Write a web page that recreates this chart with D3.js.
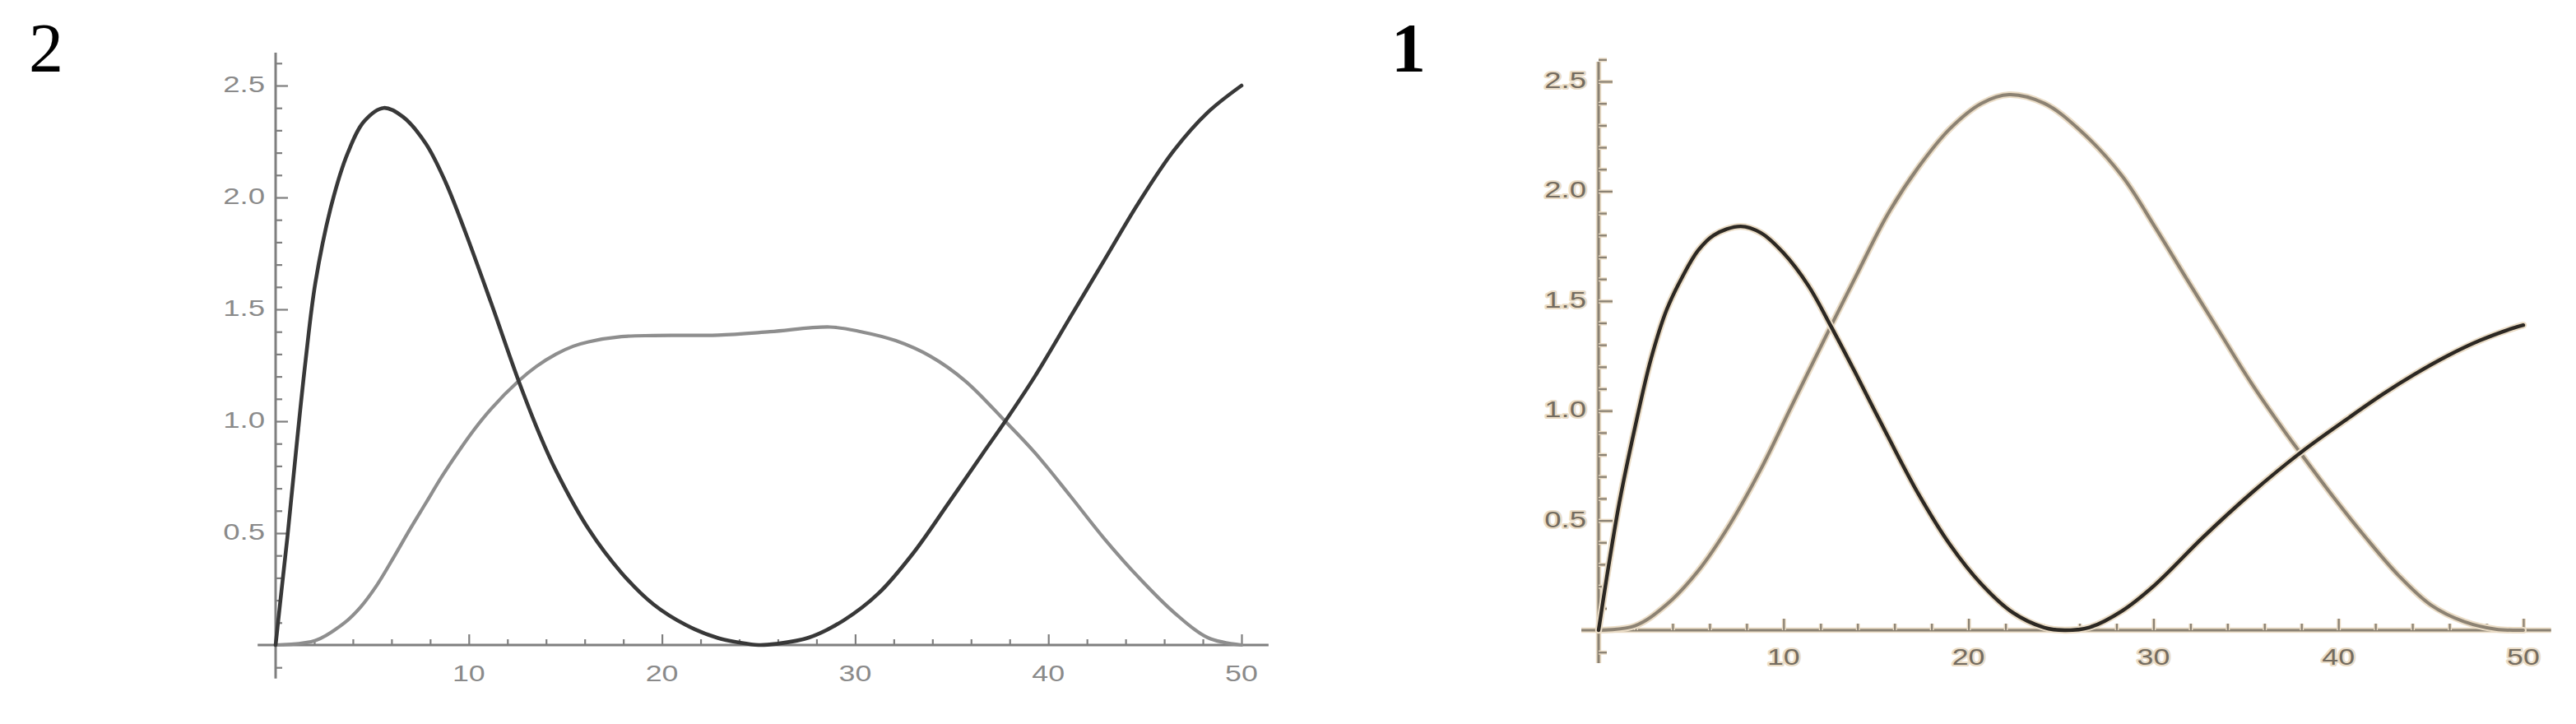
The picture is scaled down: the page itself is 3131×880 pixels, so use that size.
<!DOCTYPE html>
<html><head><meta charset="utf-8">
<script src="https://cdn.jsdelivr.net/npm/d3@7"></script>
<style>body{margin:0;background:#fff;} svg{display:block;background:#fff}</style>
</head><body>
<svg id="c" width="3131" height="880"></svg>
<script>
// ---- shared tick labels ----
const xTickLabels = [10, 20, 30, 40, 50];
const yTickLabels = [0.5, 1.0, 1.5, 2.0, 2.5];
const xMinorTicks = [2,4,6,8,12,14,16,18,22,24,26,28,32,34,36,38,42,44,46,48];
const yMinorTicks = [-0.1,0.1,0.2,0.3,0.4,0.6,0.7,0.8,0.9,1.1,1.2,1.3,1.4,1.6,1.7,1.8,1.9,2.1,2.2,2.3,2.4,2.6];

// ---- panel "2" (left) ----
const panel2Title = "2";
const p2DarkX = [0,0.3,0.62,1.13,1.55,2.06,2.9,3.74,4.58,5.6,6.6,7.78,8.79,9.8,11.15,12.58,13.68,14.52,16.2,17.9,19.57,21.25,22.9,24.0,25.0,25.9,27.6,29.4,31.2,33.0,34.8,36.6,37.77,39.3,41.1,42.9,44.7,46.5,48.25,50];
const p2DarkY = [0,0.24,0.49,0.93,1.27,1.62,1.97,2.20,2.34,2.40,2.36,2.24,2.07,1.85,1.53,1.18,0.938,0.778,0.518,0.323,0.181,0.089,0.031,0.011,0,0.005,0.033,0.11,0.23,0.41,0.63,0.855,1.0,1.20,1.46,1.72,1.98,2.21,2.38,2.50];
const p2LightX = [0,2.06,3.57,4.4,5.26,6.1,6.94,7.78,8.62,9.47,10.3,11.15,12.58,13.5,14.52,15.4,16.2,17.9,19.57,22.9,25.6,28.7,30.3,32.1,33.9,35.7,37.77,39.3,41.1,42.9,44.7,46.5,48.25,50];
const p2LightY = [0,0.02,0.10,0.17,0.27,0.39,0.515,0.635,0.755,0.865,0.965,1.055,1.18,1.245,1.30,1.335,1.355,1.378,1.383,1.385,1.40,1.421,1.40,1.36,1.29,1.18,1.0,0.86,0.67,0.475,0.30,0.146,0.033,0];

// ---- panel "1" (right) ----
const panel1Title = "1";
const p1DarkX = [0,0.44,1.12,1.97,2.83,3.68,4.53,5.38,6.23,7.68,8.78,9.98,11.34,12.53,13.9,15.6,17.3,19.0,20.7,22.4,24.1,25.2,26.54,28.3,30.06,32.7,35.3,37.97,40.6,42.4,44.1,45.9,47.65,49.4,50];
const p1DarkY = [0,0.24,0.58,0.925,1.235,1.46,1.61,1.73,1.80,1.84,1.81,1.72,1.57,1.39,1.17,0.89,0.62,0.39,0.21,0.08,0.012,0,0.013,0.088,0.205,0.425,0.625,0.81,0.97,1.075,1.165,1.25,1.32,1.375,1.39];
const p1LightX = [0,1.97,3.68,5.38,7.08,8.78,10.49,12.53,13.9,15.6,17.3,19.0,20.7,22.2,24.1,26.0,28.3,30.06,31.8,33.6,35.3,37.1,37.97,39.7,41.5,43.25,45.0,46.8,48.5,50];
const p1LightY = [0,0.02,0.117,0.27,0.48,0.735,1.03,1.38,1.61,1.89,2.11,2.285,2.40,2.44,2.40,2.28,2.07,1.84,1.60,1.355,1.125,0.905,0.805,0.61,0.42,0.25,0.115,0.039,0.005,0];

const svg = d3.select("#c");

function drawPanel(cfg) {
  const g = svg.append("g");
  const x = d3.scaleLinear().domain([0, 50]).range([cfg.x0, cfg.x50]);
  const y = d3.scaleLinear().domain([0, 2.5]).range([cfg.y0, cfg.y25]);
  const halo = cfg.halo;

  // axis lines
  const axisLines = [
    [[x(0), y(-0.15)], [x(0), y(cfg.yTop)]],
    [[x(-0.93), y(0)], [x(cfg.xRight), y(0)]]
  ];
  if (halo) {
    g.selectAll(".axh").data(axisLines).join("path")
      .attr("d", d => d3.line()(d)).attr("stroke", halo).attr("stroke-width", 6.5).attr("fill", "none");
  }
  g.selectAll(".ax").data(axisLines).join("path")
    .attr("d", d => d3.line()(d)).attr("stroke", cfg.axisColor).attr("stroke-width", 3).attr("fill", "none");

  function styleAxis(sel) {
    sel.select(".domain").remove();
    sel.selectAll(".tick text").remove();
    sel.selectAll(".tick line").attr("stroke", cfg.axisColor).attr("stroke-width", 2.2);
    if (halo) {
      sel.selectAll(".tick line").clone(false).lower()
        .attr("stroke", halo).attr("stroke-width", 5);
    }
  }

  // y ticks (pointing right)
  g.append("g").attr("transform", `translate(${x(0)},0)`)
    .call(d3.axisRight(y).tickValues(yMinorTicks).tickSize(cfg.yMinor).tickSizeOuter(0))
    .call(styleAxis);
  g.append("g").attr("transform", `translate(${x(0)},0)`)
    .call(d3.axisRight(y).tickValues(yTickLabels).tickSize(cfg.yMajor).tickSizeOuter(0))
    .call(styleAxis);
  // x ticks (pointing up)
  g.append("g").attr("transform", `translate(0,${y(0)})`)
    .call(d3.axisTop(x).tickValues(xMinorTicks).tickSize(cfg.xMinor).tickSizeOuter(0))
    .call(styleAxis);
  g.append("g").attr("transform", `translate(0,${y(0)})`)
    .call(d3.axisTop(x).tickValues(xTickLabels).tickSize(cfg.xMajor).tickSizeOuter(0))
    .call(styleAxis);

  // tick labels
  const labStyle = s => {
    s.attr("font-family", "'Liberation Sans', Arial, sans-serif")
     .attr("font-size", 27.5)
     .attr("fill", cfg.labelColor);
    if (halo) s.attr("stroke", halo).attr("stroke-width", 4).attr("paint-order", "stroke").attr("stroke-linejoin", "round");
  };
  g.selectAll(".xl").data(xTickLabels).join("text")
    .attr("transform", d => `translate(${x(d)},${y(0) + cfg.xLabOff}) scale(1.3,1)`)
    .attr("text-anchor", "middle")
    .text(d => d3.format("d")(d))
    .call(labStyle);
  g.selectAll(".yl").data(yTickLabels).join("text")
    .attr("transform", d => `translate(${x(0) - cfg.yLabGap},${y(d) + 8}) scale(1.33,1)`)
    .attr("text-anchor", "end")
    .text(d => d3.format(".1f")(d))
    .call(labStyle);

  // curves
  const line = d3.line().x(d => x(d[0])).y(d => y(d[1])).curve(d3.curveCatmullRom.alpha(0.5));
  cfg.series.forEach(s => {
    const pts = s.xs.map((v, i) => [v, s.ys[i]]);
    if (halo) {
      g.append("path").attr("d", line(pts)).attr("fill", "none")
        .attr("stroke", halo).attr("stroke-width", s.width + 4).attr("stroke-linecap", "round");
    }
    g.append("path").attr("d", line(pts)).attr("fill", "none")
      .attr("stroke", s.color).attr("stroke-width", s.width)
      .attr("stroke-linecap", "round").attr("stroke-linejoin", "round");
  });

  // panel title
  svg.append("text")
    .attr("x", cfg.titleX).attr("y", 87)
    .attr("text-anchor", "middle")
    .attr("font-family", "'Liberation Serif', 'Times New Roman', serif")
    .attr("font-size", 84)
    .attr("font-weight", cfg.titleWeight)
    .attr("fill", "#000")
    .text(cfg.title);
}

drawPanel({
  title: panel2Title, titleX: 56, titleWeight: "normal",
  x0: 335, x50: 1509, y0: 784, y25: 104, yTop: 2.647, xRight: 51.4,
  yMinor: 8, yMajor: 15, xMinor: 7, xMajor: 13,
  xLabOff: 44, yLabGap: 13,
  axisColor: "#7f7f7f", labelColor: "#8a8a8a", halo: null,
  series: [
    { xs: p2LightX, ys: p2LightY, color: "#8e8e8e", width: 4.2 },
    { xs: p2DarkX, ys: p2DarkY, color: "#383838", width: 4.6 }
  ]
});

drawPanel({
  title: panel1Title, titleX: 1712, titleWeight: "bold",
  x0: 1943, x50: 3067, y0: 766, y25: 99, yTop: 2.59, xRight: 51.5,
  yMinor: 10, yMajor: 17, xMinor: 8, xMajor: 14,
  xLabOff: 42, yLabGap: 15,
  axisColor: "#8a8173", labelColor: "#746c60", halo: "#eadcc6",
  series: [
    { xs: p1LightX, ys: p1LightY, color: "#8c8273", width: 4 },
    { xs: p1DarkX, ys: p1DarkY, color: "#2c2823", width: 4.4 }
  ]
});
</script>
</body></html>
